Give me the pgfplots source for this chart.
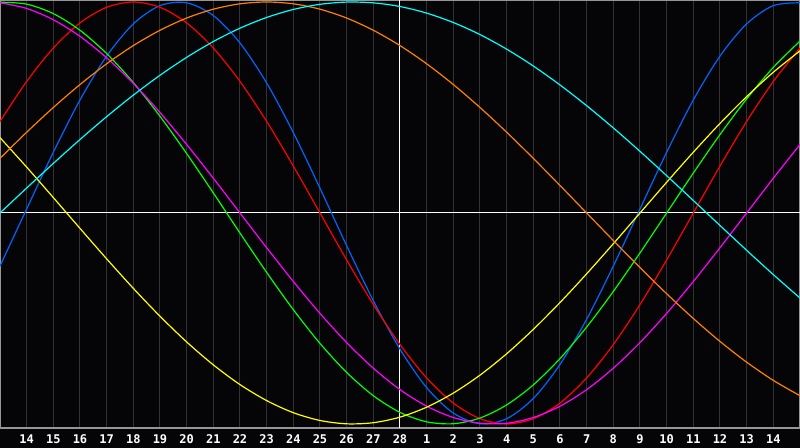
\documentclass[border=0pt]{standalone}
\usepackage{fontspec}
\usepackage{pgfplots}
\pgfplotsset{compat=1.18}
\newfontfamily\lblfont{DejaVu Sans Mono}

\definecolor{bg}{RGB}{5,5,8}
\definecolor{gridc}{RGB}{50,50,50}
\definecolor{framec}{RGB}{150,150,150}
\definecolor{cphys}{RGB}{0,100,255}
\definecolor{cemo}{RGB}{255,0,0}
\definecolor{cint}{RGB}{0,255,0}
\definecolor{cintu}{RGB}{255,0,255}
\definecolor{caes}{RGB}{255,255,0}
\definecolor{cawa}{RGB}{255,128,0}
\definecolor{cspi}{RGB}{0,255,255}

\begin{document}
\begin{tikzpicture}
\path[use as bounding box, fill=bg] (0,-10pt) rectangle (400pt,214pt);
\begin{axis}[
    at={(0,0)}, anchor=south west,
    scale only axis, width=400pt, height=214pt,
    xmin=0, xmax=30, ymin=-1.019, ymax=1.0095,
    axis background/.style={fill=bg},
    xtick={1,...,29},
    xticklabels={14,15,16,17,18,19,20,21,22,23,24,25,26,27,28,1,2,3,4,5,6,7,8,9,10,11,12,13,14},
    ytick=\empty,
    xmajorgrids,
    major grid style={draw=gridc, line width=0.5pt},
    major tick length=0pt,
    tick style={draw=none},
    axis line style={draw=framec, line width=0.6pt},
    xticklabel style={anchor=center, yshift=-5.6pt, text=white,
        font=\lblfont\bfseries\fontsize{6}{6}\selectfont},
    every axis plot/.append style={line width=0.6pt, no markers},
]
% centre lines
\addplot[white, line width=0.5pt] coordinates {(0,0) (30,0)};
\addplot[white, line width=0.5pt] coordinates {(15,-1.019) (15,1.0095)};

% physical, 23 days
\addplot[cphys, smooth] coordinates {
(0,-0.2514)(1,0.0191)(2,0.2881)(3,0.5358)(4,0.7436)(5,0.8964)(6,0.9828)(7,0.9962)
(8,0.9357)(9,0.8057)(10,0.6161)(11,0.3809)(12,0.1173)(13,-0.1550)(14,-0.4158)
(15,-0.6456)(16,-0.8277)(17,-0.9485)(18,-0.9988)(19,-0.9750)(20,-0.8790)(21,-0.7179)
(22,-0.5033)(23,-0.2515)(24,0.0190)(25,0.2880)(26,0.5357)(27,0.7436)(28,0.8964)
(29,0.9828)(30,0.9962)};

% emotional, 28 days
\addplot[cemo, smooth] coordinates {
(0,0.4339)(1,0.6235)(2,0.7818)(3,0.9010)(4,0.9749)(5,1)(6,0.9749)(7,0.9010)
(8,0.7818)(9,0.6235)(10,0.4339)(11,0.2225)(12,0)(13,-0.2225)(14,-0.4339)
(15,-0.6235)(16,-0.7818)(17,-0.9010)(18,-0.9749)(19,-1)(20,-0.9749)(21,-0.9010)
(22,-0.7818)(23,-0.6235)(24,-0.4339)(25,-0.2225)(26,0)(27,0.2225)(28,0.4339)
(29,0.6235)(30,0.7818)};

% intellectual, 33 days
\addplot[cint, smooth] coordinates {
(0,0.9989)(1,0.9898)(2,0.9450)(3,0.8660)(4,0.7557)(5,0.6182)(6,0.4582)(7,0.2817)
(8,0.0951)(9,-0.0951)(10,-0.2817)(11,-0.4582)(12,-0.6182)(13,-0.7557)(14,-0.8660)
(15,-0.9450)(16,-0.9898)(17,-0.9989)(18,-0.9718)(19,-0.9096)(20,-0.8146)(21,-0.6901)
(22,-0.5406)(23,-0.3717)(24,-0.1893)(25,0)(26,0.1893)(27,0.3717)(28,0.5406)
(29,0.6901)(30,0.8146)};

% intuitive, 38 days
\addplot[cintu, smooth] coordinates {
(0,0.9966)(1,0.9694)(2,0.9158)(3,0.8372)(4,0.7357)(5,0.6142)(6,0.4759)(7,0.3247)
(8,0.1646)(9,0)(10,-0.1646)(11,-0.3247)(12,-0.4759)(13,-0.6142)(14,-0.7357)
(15,-0.8372)(16,-0.9158)(17,-0.9694)(18,-0.9966)(19,-0.9966)(20,-0.9694)(21,-0.9158)
(22,-0.8372)(23,-0.7357)(24,-0.6142)(25,-0.4759)(26,-0.3247)(27,-0.1646)(28,0)
(29,0.1646)(30,0.3247)};

% aesthetic, 43 days
\addplot[caes, smooth] coordinates {
(0,0.3572)(1,0.2174)(2,0.0730)(3,-0.0730)(4,-0.2174)(5,-0.3572)(6,-0.4894)(7,-0.6112)
(8,-0.7198)(9,-0.8133)(10,-0.8892)(11,-0.9465)(12,-0.9834)(13,-0.9993)(14,-0.9940)
(15,-0.9675)(16,-0.9204)(17,-0.8536)(18,-0.7685)(19,-0.6671)(20,-0.5516)(21,-0.4245)
(22,-0.2881)(23,-0.1456)(24,0)(25,0.1456)(26,0.2881)(27,0.4245)(28,0.5516)
(29,0.6671)(30,0.7685)};

% awareness, 48 days
\addplot[cawa, smooth] coordinates {
(0,0.2588)(1,0.3827)(2,0.5)(3,0.6088)(4,0.7071)(5,0.7934)(6,0.8660)(7,0.9239)
(8,0.9659)(9,0.9914)(10,1)(11,0.9914)(12,0.9659)(13,0.9239)(14,0.8660)
(15,0.7934)(16,0.7071)(17,0.6088)(18,0.5)(19,0.3827)(20,0.2588)(21,0.1305)
(22,0)(23,-0.1305)(24,-0.2588)(25,-0.3827)(26,-0.5)(27,-0.6088)(28,-0.7071)
(29,-0.7934)(30,-0.8660)};

% spiritual, 53 days
\addplot[cspi, smooth] coordinates {
(0,0)(1,0.1183)(2,0.2349)(3,0.3482)(4,0.4566)(5,0.5586)(6,0.6527)(7,0.7377)
(8,0.8126)(9,0.8759)(10,0.9267)(11,0.9646)(12,0.9890)(13,0.9996)(14,0.9960)
(15,0.9786)(16,0.9473)(17,0.9028)(18,0.8456)(19,0.7765)(20,0.6966)(21,0.6068)
(22,0.5085)(23,0.4031)(24,0.2921)(25,0.1769)(26,0.0592)(27,-0.0592)(28,-0.1769)
(29,-0.2921)(30,-0.4031)};
\end{axis}
\end{tikzpicture}
\end{document}
